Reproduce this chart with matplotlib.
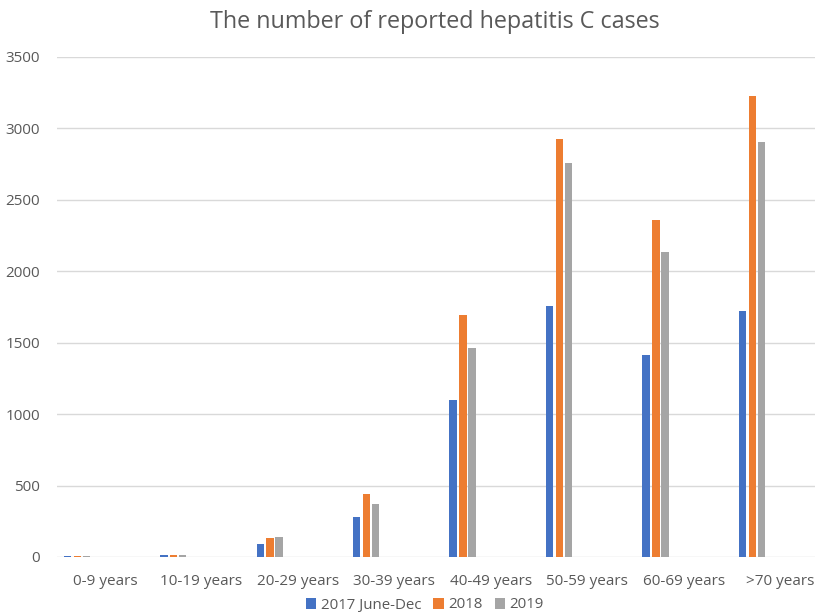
import matplotlib
matplotlib.use("Agg")
import matplotlib.pyplot as plt
import numpy as np

plt.rcParams['font.family'] = ['Open Sans', 'DejaVu Sans']

categories = ["0-9 years", "10-19 years", "20-29 years", "30-39 years",
              "40-49 years", "50-59 years", "60-69 years", ">70 years"]
series_names = ["2017 June-Dec", "2018", "2019"]
cases_2017 = [5, 17, 90, 280, 1099, 1757, 1412, 1724]
cases_2018 = [5, 17, 131, 441, 1694, 2923, 2359, 3229]
cases_2019 = [5, 16, 140, 371, 1461, 2755, 2137, 2905]
yticks = [0, 500, 1000, 1500, 2000, 2500, 3000, 3500]

colors = ["#4472C4", "#ED7D31", "#A5A5A5"]
offsets = [-0.390, -0.288, -0.194]
bar_w = 0.077
text_color = "#595959"

fig = plt.figure(figsize=(8.15, 6.14), dpi=100)
W, H = 815, 614
left_px, right_px = 56.8, 815
top_px, bottom_px = 57, 557
ax = fig.add_axes([left_px / W, (H - bottom_px) / H,
                   (right_px - left_px) / W, (bottom_px - top_px) / H])

x = np.arange(len(categories))
for vals, off, col, name in zip([cases_2017, cases_2018, cases_2019],
                                offsets, colors, series_names):
    ax.bar(x + off, vals, width=bar_w, color=col, label=name, zorder=3)

ax.set_xlim(-0.5, (815 - 105) / 96.45)
ax.set_ylim(0, 3500)
ax.set_yticks(yticks)
ax.set_xticks(x)
ax.set_xticklabels(categories)
ax.yaxis.grid(True, color="#D9D9D9", linewidth=1.0, zorder=0)
ax.set_axisbelow(True)
for s in ax.spines.values():
    s.set_visible(False)
ax.tick_params(axis='both', length=0, colors=text_color, labelsize=11)
ax.tick_params(axis='x', pad=12)
ax.tick_params(axis='y', pad=12)

fig.text(435 / W, 1 - 22 / H, "The number of reported hepatitis C cases",
         ha='center', va='center', fontsize=16.8, color=text_color)

leg = fig.legend(loc='center', bbox_to_anchor=(425 / W, 1 - 605 / H),
                 ncol=3, frameon=False, fontsize=10.8, handlelength=0.7,
                 handleheight=0.7, handletextpad=0.3, columnspacing=0.8,
                 labelcolor=text_color)

fig.savefig("out.png", dpi=100, facecolor="white")
